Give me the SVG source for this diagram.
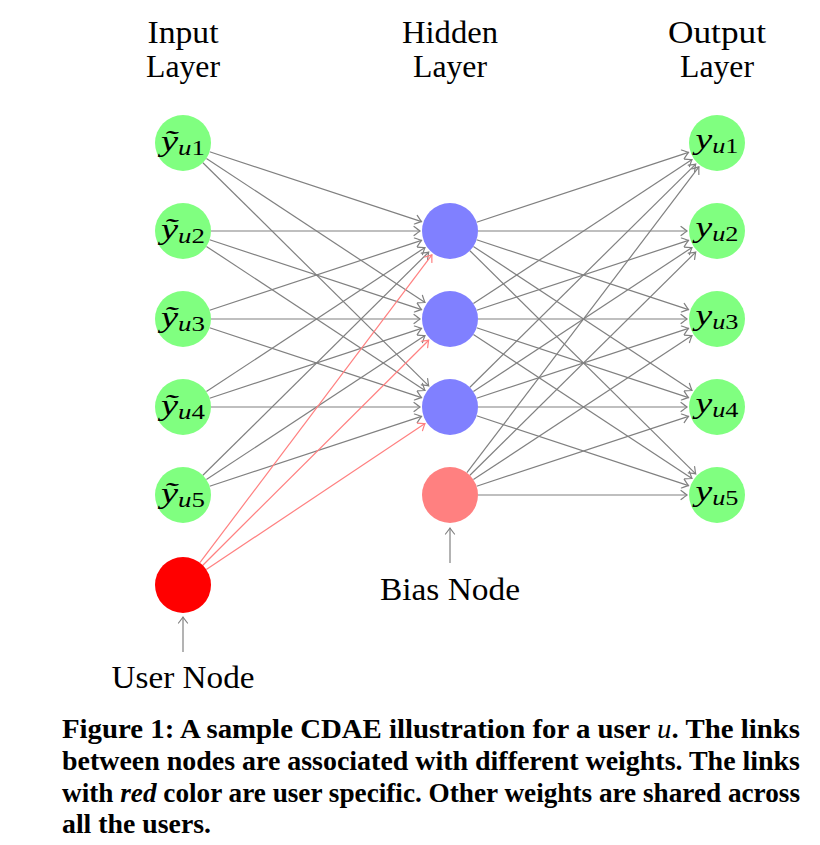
<svg xmlns="http://www.w3.org/2000/svg" width="820" height="845" viewBox="0 0 820 845">
<style>
.hdr{font-family:"Liberation Serif","Times New Roman",serif;font-size:31px;fill:#000;text-anchor:middle}
.lbl{font-family:"Liberation Serif","Times New Roman",serif;font-size:30px;fill:#000;text-anchor:middle}
.sub{font-size:21px}
.it{font-style:italic}
.cap{font-family:"Liberation Serif","Times New Roman",serif;font-size:27px;font-weight:bold;fill:#000}
.e{stroke:#808080;stroke-width:1.2;fill:none;marker-end:url(#ag)}
.r{stroke:#ff8080;stroke-width:1.2;fill:none;marker-end:url(#ar)}
.io{fill:#80ff80}
.hid{fill:#8080ff}
</style>
<defs>
<marker id="ag" markerUnits="userSpaceOnUse" markerWidth="14" markerHeight="14" refX="0" refY="0" viewBox="-8 -7 10 14" orient="auto" overflow="visible">
<path d="M-6,-4.5 Q-1.5,-1 0,0 Q-1.5,1 -6,4.5" fill="none" stroke="#808080" stroke-width="1.2" stroke-linecap="round"/>
</marker>
<marker id="ar" markerUnits="userSpaceOnUse" markerWidth="14" markerHeight="14" refX="0" refY="0" viewBox="-8 -7 10 14" orient="auto" overflow="visible">
<path d="M-6,-4.5 Q-1.5,-1 0,0 Q-1.5,1 -6,4.5" fill="none" stroke="#ff8080" stroke-width="1.2" stroke-linecap="round"/>
</marker>
</defs>

<g id="headers">
<text class="hdr" x="183" y="43" textLength="71" lengthAdjust="spacingAndGlyphs">Input</text>
<text class="hdr" x="183" y="77" textLength="74" lengthAdjust="spacingAndGlyphs">Layer</text>
<text class="hdr" x="450" y="43" textLength="96" lengthAdjust="spacingAndGlyphs">Hidden</text>
<text class="hdr" x="450" y="77" textLength="74" lengthAdjust="spacingAndGlyphs">Layer</text>
<text class="hdr" x="717" y="43" textLength="98" lengthAdjust="spacingAndGlyphs">Output</text>
<text class="hdr" x="717" y="77" textLength="74" lengthAdjust="spacingAndGlyphs">Layer</text>
</g>

<g id="connectors">
<line class="e" x1="209.6" y1="151.8" x2="421.5" y2="221.6"/>
<line class="e" x1="206.4" y1="158.4" x2="425.0" y2="302.5"/>
<line class="e" x1="202.9" y1="162.7" x2="428.7" y2="385.9"/>
<line class="e" x1="211" y1="231" x2="420" y2="231"/>
<line class="e" x1="209.6" y1="239.8" x2="421.5" y2="309.6"/>
<line class="e" x1="206.4" y1="246.4" x2="425.0" y2="390.5"/>
<line class="e" x1="209.6" y1="310.2" x2="421.5" y2="240.4"/>
<line class="e" x1="211" y1="319" x2="420" y2="319"/>
<line class="e" x1="209.6" y1="327.8" x2="421.5" y2="397.6"/>
<line class="e" x1="206.4" y1="391.6" x2="425.0" y2="247.5"/>
<line class="e" x1="209.6" y1="398.2" x2="421.5" y2="328.4"/>
<line class="e" x1="211" y1="407" x2="420" y2="407"/>
<line class="e" x1="202.9" y1="475.3" x2="428.7" y2="252.1"/>
<line class="e" x1="206.4" y1="479.6" x2="425.0" y2="335.5"/>
<line class="e" x1="209.6" y1="486.2" x2="421.5" y2="416.4"/>

<line class="e" x1="476.6" y1="222.2" x2="688.5" y2="152.4"/>
<line class="e" x1="478" y1="231" x2="687" y2="231"/>
<line class="e" x1="476.6" y1="239.8" x2="688.5" y2="309.6"/>
<line class="e" x1="473.4" y1="246.4" x2="692.0" y2="390.5"/>
<line class="e" x1="469.9" y1="250.7" x2="695.7" y2="473.9"/>
<line class="e" x1="473.4" y1="303.6" x2="692.0" y2="159.5"/>
<line class="e" x1="476.6" y1="310.2" x2="688.5" y2="240.4"/>
<line class="e" x1="478" y1="319" x2="687" y2="319"/>
<line class="e" x1="476.6" y1="327.8" x2="688.5" y2="397.6"/>
<line class="e" x1="473.4" y1="334.4" x2="692.0" y2="478.5"/>
<line class="e" x1="469.9" y1="387.3" x2="695.7" y2="164.1"/>
<line class="e" x1="473.4" y1="391.6" x2="692.0" y2="247.5"/>
<line class="e" x1="476.6" y1="398.2" x2="688.5" y2="328.4"/>
<line class="e" x1="478" y1="407" x2="687" y2="407"/>
<line class="e" x1="476.6" y1="415.8" x2="688.5" y2="485.6"/>
<line class="e" x1="466.9" y1="472.7" x2="698.9" y2="166.9"/>
<line class="e" x1="469.9" y1="475.3" x2="695.7" y2="252.1"/>
<line class="e" x1="473.4" y1="479.6" x2="692.0" y2="335.5"/>
<line class="e" x1="476.6" y1="486.2" x2="688.5" y2="416.4"/>
<line class="e" x1="478" y1="495" x2="687" y2="495"/>

<line class="r" x1="199.9" y1="562.7" x2="431.9" y2="254.9"/>
<line class="r" x1="202.8" y1="565.2" x2="428.7" y2="340.2"/>
<line class="r" x1="206.3" y1="569.5" x2="425.0" y2="423.6"/>

<line class="e" x1="183" y1="652" x2="183" y2="617"/>
<line class="e" x1="450" y1="563" x2="450" y2="528"/>
</g>

<g id="in1"><circle class="io" cx="183" cy="143" r="28"/><text class="lbl" x="183" y="151" textLength="44" lengthAdjust="spacingAndGlyphs"><tspan class="it">ỹ</tspan><tspan class="sub it" dy="4">u</tspan><tspan class="sub">1</tspan></text></g>
<g id="in2"><circle class="io" cx="183" cy="231" r="28"/><text class="lbl" x="183" y="239" textLength="44" lengthAdjust="spacingAndGlyphs"><tspan class="it">ỹ</tspan><tspan class="sub it" dy="4">u</tspan><tspan class="sub">2</tspan></text></g>
<g id="in3"><circle class="io" cx="183" cy="319" r="28"/><text class="lbl" x="183" y="327" textLength="44" lengthAdjust="spacingAndGlyphs"><tspan class="it">ỹ</tspan><tspan class="sub it" dy="4">u</tspan><tspan class="sub">3</tspan></text></g>
<g id="in4"><circle class="io" cx="183" cy="407" r="28"/><text class="lbl" x="183" y="415" textLength="44" lengthAdjust="spacingAndGlyphs"><tspan class="it">ỹ</tspan><tspan class="sub it" dy="4">u</tspan><tspan class="sub">4</tspan></text></g>
<g id="in5"><circle class="io" cx="183" cy="495" r="28"/><text class="lbl" x="183" y="503" textLength="44" lengthAdjust="spacingAndGlyphs"><tspan class="it">ỹ</tspan><tspan class="sub it" dy="4">u</tspan><tspan class="sub">5</tspan></text></g>

<g id="user"><circle cx="183" cy="585" r="28" fill="#ff0000"/><text class="hdr" x="183" y="688" textLength="143" lengthAdjust="spacingAndGlyphs">User Node</text></g>

<g id="h1"><circle class="hid" cx="450" cy="231" r="28"/></g>
<g id="h2"><circle class="hid" cx="450" cy="319" r="28"/></g>
<g id="h3"><circle class="hid" cx="450" cy="407" r="28"/></g>
<g id="bias"><circle cx="450" cy="495" r="28" fill="#ff8080"/><text class="hdr" x="450" y="600" textLength="140" lengthAdjust="spacingAndGlyphs">Bias Node</text></g>

<g id="out1"><circle class="io" cx="717" cy="143" r="28"/><text class="lbl" x="717" y="149" textLength="43" lengthAdjust="spacingAndGlyphs"><tspan class="it">y</tspan><tspan class="sub it" dy="4">u</tspan><tspan class="sub">1</tspan></text></g>
<g id="out2"><circle class="io" cx="717" cy="231" r="28"/><text class="lbl" x="717" y="237" textLength="43" lengthAdjust="spacingAndGlyphs"><tspan class="it">y</tspan><tspan class="sub it" dy="4">u</tspan><tspan class="sub">2</tspan></text></g>
<g id="out3"><circle class="io" cx="717" cy="319" r="28"/><text class="lbl" x="717" y="325" textLength="43" lengthAdjust="spacingAndGlyphs"><tspan class="it">y</tspan><tspan class="sub it" dy="4">u</tspan><tspan class="sub">3</tspan></text></g>
<g id="out4"><circle class="io" cx="717" cy="407" r="28"/><text class="lbl" x="717" y="413" textLength="43" lengthAdjust="spacingAndGlyphs"><tspan class="it">y</tspan><tspan class="sub it" dy="4">u</tspan><tspan class="sub">4</tspan></text></g>
<g id="out5"><circle class="io" cx="717" cy="495" r="28"/><text class="lbl" x="717" y="501" textLength="43" lengthAdjust="spacingAndGlyphs"><tspan class="it">y</tspan><tspan class="sub it" dy="4">u</tspan><tspan class="sub">5</tspan></text></g>

<g id="caption">
<text class="cap" x="62" y="738" textLength="738" lengthAdjust="spacingAndGlyphs">Figure 1: A sample CDAE illustration for a user <tspan font-style="italic" font-weight="normal">u</tspan>. The links</text>
<text class="cap" x="62" y="770" textLength="738" lengthAdjust="spacingAndGlyphs">between nodes are associated with different weights. The links</text>
<text class="cap" x="62" y="802" textLength="738" lengthAdjust="spacingAndGlyphs">with <tspan font-style="italic">red</tspan> color are user specific. Other weights are shared across</text>
<text class="cap" x="62" y="833" textLength="149" lengthAdjust="spacingAndGlyphs">all the users.</text>
</g>
</svg>
